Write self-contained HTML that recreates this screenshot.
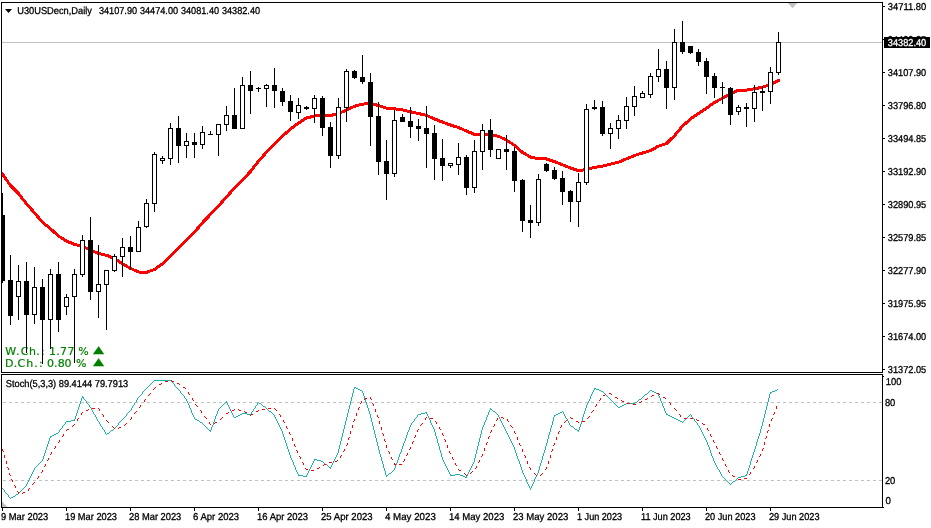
<!DOCTYPE html>
<html lang="en"><head><meta charset="utf-8"><title>U30USDecn, Daily</title>
<style>
html,body{margin:0;padding:0;background:#fff;}
body{width:931px;height:528px;overflow:hidden;position:relative;font-family:"Liberation Sans",sans-serif;}
svg{position:absolute;left:0;top:0;display:block;}
.t{font-family:"Liberation Sans",sans-serif;font-size:10px;fill:#000;stroke:#000;stroke-width:0.3px;text-rendering:geometricPrecision;}
.g{font-family:"DejaVu Sans","Liberation Sans",sans-serif;font-size:11px;fill:#008000;stroke:#008000;stroke-width:0.2px;}
.w{fill:#fff;stroke:#fff;}
</style></head><body>
<svg width="931" height="528" viewBox="0 0 931 528">
<rect x="0" y="0" width="931" height="528" fill="#fff"/>
<g shape-rendering="crispEdges">
<rect x="2" y="42" width="880" height="1" fill="#c0c0c0"/>
<line x1="3" y1="402.5" x2="882" y2="402.5" stroke="#c0c0c0" stroke-width="1" stroke-dasharray="3 3"/>
<line x1="3" y1="480.5" x2="882" y2="480.5" stroke="#c0c0c0" stroke-width="1" stroke-dasharray="3 3"/>
</g>
<polyline points="2.5,174.0 10.5,185.6 18.5,193.6 26.5,203.7 34.5,212.9 42.5,222.3 50.5,228.8 58.5,236.0 66.5,241.1 74.5,244.3 82.5,246.3 90.5,250.1 98.5,253.4 106.5,255.3 114.5,258.5 122.5,264.0 130.5,268.4 138.5,272.0 146.5,272.3 154.5,269.5 162.5,263.7 170.5,255.9 178.5,247.9 186.5,239.8 194.5,232.1 202.5,222.7 210.5,214.3 218.5,206.0 226.5,197.0 234.5,188.0 242.5,179.9 250.5,171.5 258.5,161.2 266.5,152.2 274.5,143.8 282.5,136.1 290.5,129.0 298.5,123.0 306.5,118.0 314.5,116.0 322.5,115.2 330.5,115.5 338.5,113.6 346.5,110.0 354.5,106.3 362.5,104.1 370.5,103.7 378.5,105.4 386.5,108.2 394.5,108.8 402.5,109.8 410.5,111.8 418.5,113.5 426.5,115.4 434.5,118.9 442.5,122.1 450.5,125.0 458.5,127.5 466.5,131.1 474.5,134.3 482.5,134.6 490.5,134.6 498.5,136.3 506.5,140.1 514.5,145.3 522.5,152.4 530.5,157.0 538.5,158.8 546.5,159.0 554.5,161.6 562.5,164.8 570.5,168.0 578.5,170.6 586.5,169.6 594.5,167.4 602.5,166.1 610.5,164.2 618.5,162.2 626.5,158.8 634.5,155.5 642.5,153.0 650.5,150.6 658.5,146.1 666.5,143.5 674.5,135.7 682.5,126.1 690.5,119.0 698.5,113.5 706.5,108.2 714.5,102.4 722.5,98.2 730.5,93.7 738.5,90.2 746.5,90.1 754.5,88.8 762.5,87.2 770.5,84.3 778.5,80.5" fill="none" stroke="#ff0000" stroke-width="3" stroke-linejoin="round" stroke-linecap="round" shape-rendering="crispEdges"/>
<text class="g" x="5.3 15.9 20.8 29 36.3 41 44.5 49.1 56.2 60.1 67.5 74.5 78.3" y="355">W.Ch.: 1.77 %</text>
<text class="g" x="5 13.8 17.5 26.2 34.3 38.9 43 46.9 54 57.7 64.5 71 75.9" y="367">D.Ch.: 0.80 %</text>
<text class="g" transform="translate(92.95,352.5) scale(1.116,0.8)" x="0" y="0" style="font-size:13px">▲</text>
<text class="g" transform="translate(92.95,364.5) scale(1.116,0.8)" x="0" y="0" style="font-size:13px">▲</text>
<g shape-rendering="crispEdges" fill="#000">
<rect x="2" y="193" width="1" height="90"/>
<rect x="1" y="215" width="4" height="66"/>
<rect x="10" y="255" width="1" height="70"/>
<rect x="8" y="280" width="5" height="36"/>
<rect x="18" y="265" width="1" height="55"/>
<rect x="16" y="281" width="5" height="16"/>
<rect x="17" y="282" width="3" height="14" fill="#fff"/>
<rect x="26" y="262" width="1" height="91"/>
<rect x="24" y="281" width="5" height="34"/>
<rect x="34" y="267" width="1" height="57"/>
<rect x="32" y="287" width="5" height="28"/>
<rect x="33" y="288" width="3" height="26" fill="#fff"/>
<rect x="42" y="279" width="1" height="85"/>
<rect x="40" y="287" width="5" height="33"/>
<rect x="50" y="269" width="1" height="80"/>
<rect x="48" y="274" width="5" height="46"/>
<rect x="49" y="275" width="3" height="44" fill="#fff"/>
<rect x="58" y="262" width="1" height="70"/>
<rect x="56" y="274" width="5" height="46"/>
<rect x="66" y="294" width="1" height="21"/>
<rect x="64" y="297" width="5" height="10"/>
<rect x="65" y="298" width="3" height="8" fill="#fff"/>
<rect x="74" y="269" width="1" height="94"/>
<rect x="72" y="274" width="5" height="23"/>
<rect x="73" y="275" width="3" height="21" fill="#fff"/>
<rect x="82" y="235" width="1" height="42"/>
<rect x="80" y="240" width="5" height="35"/>
<rect x="81" y="241" width="3" height="33" fill="#fff"/>
<rect x="90" y="217" width="1" height="83"/>
<rect x="88" y="240" width="5" height="52"/>
<rect x="98" y="245" width="1" height="73"/>
<rect x="96" y="284" width="5" height="8"/>
<rect x="97" y="285" width="3" height="6" fill="#fff"/>
<rect x="106" y="270" width="1" height="60"/>
<rect x="104" y="270" width="5" height="15"/>
<rect x="105" y="271" width="3" height="13" fill="#fff"/>
<rect x="114" y="254" width="1" height="18"/>
<rect x="112" y="256" width="5" height="15"/>
<rect x="113" y="257" width="3" height="13" fill="#fff"/>
<rect x="122" y="238" width="1" height="39"/>
<rect x="120" y="247" width="5" height="10"/>
<rect x="121" y="248" width="3" height="8" fill="#fff"/>
<rect x="130" y="236" width="1" height="34"/>
<rect x="128" y="247" width="5" height="5"/>
<rect x="138" y="221" width="1" height="31"/>
<rect x="136" y="227" width="5" height="25"/>
<rect x="137" y="228" width="3" height="23" fill="#fff"/>
<rect x="146" y="199" width="1" height="29"/>
<rect x="144" y="203" width="5" height="24"/>
<rect x="145" y="204" width="3" height="22" fill="#fff"/>
<rect x="154" y="152" width="1" height="60"/>
<rect x="152" y="154" width="5" height="50"/>
<rect x="153" y="155" width="3" height="48" fill="#fff"/>
<rect x="162" y="156" width="1" height="8"/>
<rect x="160" y="158" width="5" height="3"/>
<rect x="161" y="159" width="3" height="1" fill="#fff"/>
<rect x="170" y="123" width="1" height="42"/>
<rect x="168" y="128" width="5" height="31"/>
<rect x="169" y="129" width="3" height="29" fill="#fff"/>
<rect x="178" y="116" width="1" height="47"/>
<rect x="176" y="128" width="5" height="18"/>
<rect x="186" y="133" width="1" height="25"/>
<rect x="184" y="141" width="5" height="5"/>
<rect x="185" y="142" width="3" height="3" fill="#fff"/>
<rect x="194" y="133" width="1" height="25"/>
<rect x="192" y="142" width="5" height="3"/>
<rect x="202" y="126" width="1" height="23"/>
<rect x="200" y="132" width="5" height="13"/>
<rect x="201" y="133" width="3" height="11" fill="#fff"/>
<rect x="210" y="131" width="1" height="4"/>
<rect x="208" y="134" width="5" height="1"/>
<rect x="218" y="124" width="1" height="32"/>
<rect x="216" y="124" width="5" height="11"/>
<rect x="217" y="125" width="3" height="9" fill="#fff"/>
<rect x="226" y="106" width="1" height="25"/>
<rect x="224" y="115" width="5" height="10"/>
<rect x="225" y="116" width="3" height="8" fill="#fff"/>
<rect x="234" y="88" width="1" height="41"/>
<rect x="232" y="115" width="5" height="14"/>
<rect x="242" y="77" width="1" height="52"/>
<rect x="240" y="85" width="5" height="44"/>
<rect x="241" y="86" width="3" height="42" fill="#fff"/>
<rect x="250" y="71" width="1" height="43"/>
<rect x="248" y="85" width="5" height="6"/>
<rect x="258" y="87" width="1" height="5"/>
<rect x="256" y="88" width="5" height="1"/>
<rect x="266" y="84" width="1" height="23"/>
<rect x="264" y="85" width="5" height="4"/>
<rect x="265" y="86" width="3" height="2" fill="#fff"/>
<rect x="274" y="68" width="1" height="40"/>
<rect x="272" y="85" width="5" height="6"/>
<rect x="282" y="88" width="1" height="18"/>
<rect x="280" y="91" width="5" height="11"/>
<rect x="290" y="95" width="1" height="26"/>
<rect x="288" y="101" width="5" height="11"/>
<rect x="298" y="98" width="1" height="21"/>
<rect x="296" y="105" width="5" height="8"/>
<rect x="297" y="106" width="3" height="6" fill="#fff"/>
<rect x="306" y="106" width="1" height="4"/>
<rect x="304" y="107" width="5" height="2"/>
<rect x="314" y="95" width="1" height="28"/>
<rect x="312" y="98" width="5" height="11"/>
<rect x="313" y="99" width="3" height="9" fill="#fff"/>
<rect x="322" y="96" width="1" height="40"/>
<rect x="320" y="98" width="5" height="30"/>
<rect x="330" y="122" width="1" height="46"/>
<rect x="328" y="127" width="5" height="29"/>
<rect x="338" y="98" width="1" height="61"/>
<rect x="336" y="107" width="5" height="49"/>
<rect x="337" y="108" width="3" height="47" fill="#fff"/>
<rect x="346" y="69" width="1" height="53"/>
<rect x="344" y="71" width="5" height="37"/>
<rect x="345" y="72" width="3" height="35" fill="#fff"/>
<rect x="354" y="70" width="1" height="9"/>
<rect x="352" y="71" width="5" height="7"/>
<rect x="362" y="55" width="1" height="29"/>
<rect x="360" y="77" width="5" height="5"/>
<rect x="370" y="73" width="1" height="73"/>
<rect x="368" y="82" width="5" height="35"/>
<rect x="378" y="102" width="1" height="73"/>
<rect x="376" y="116" width="5" height="46"/>
<rect x="386" y="140" width="1" height="60"/>
<rect x="384" y="161" width="5" height="13"/>
<rect x="394" y="110" width="1" height="67"/>
<rect x="392" y="120" width="5" height="54"/>
<rect x="393" y="121" width="3" height="52" fill="#fff"/>
<rect x="402" y="114" width="1" height="8"/>
<rect x="400" y="117" width="5" height="5"/>
<rect x="410" y="107" width="1" height="31"/>
<rect x="408" y="121" width="5" height="6"/>
<rect x="418" y="119" width="1" height="22"/>
<rect x="416" y="126" width="5" height="3"/>
<rect x="426" y="106" width="1" height="62"/>
<rect x="424" y="128" width="5" height="6"/>
<rect x="434" y="125" width="1" height="55"/>
<rect x="432" y="133" width="5" height="26"/>
<rect x="442" y="139" width="1" height="42"/>
<rect x="440" y="158" width="5" height="8"/>
<rect x="450" y="163" width="1" height="5"/>
<rect x="448" y="163" width="5" height="3"/>
<rect x="449" y="164" width="3" height="1" fill="#fff"/>
<rect x="458" y="143" width="1" height="32"/>
<rect x="456" y="157" width="5" height="8"/>
<rect x="457" y="158" width="3" height="6" fill="#fff"/>
<rect x="466" y="155" width="1" height="40"/>
<rect x="464" y="157" width="5" height="31"/>
<rect x="474" y="140" width="1" height="53"/>
<rect x="472" y="151" width="5" height="37"/>
<rect x="473" y="152" width="3" height="35" fill="#fff"/>
<rect x="482" y="124" width="1" height="46"/>
<rect x="480" y="130" width="5" height="22"/>
<rect x="481" y="131" width="3" height="20" fill="#fff"/>
<rect x="490" y="119" width="1" height="38"/>
<rect x="488" y="130" width="5" height="20"/>
<rect x="498" y="149" width="1" height="10"/>
<rect x="496" y="149" width="5" height="10"/>
<rect x="497" y="150" width="3" height="8" fill="#fff"/>
<rect x="506" y="135" width="1" height="35"/>
<rect x="504" y="149" width="5" height="3"/>
<rect x="514" y="147" width="1" height="45"/>
<rect x="512" y="151" width="5" height="30"/>
<rect x="522" y="179" width="1" height="53"/>
<rect x="520" y="180" width="5" height="41"/>
<rect x="530" y="205" width="1" height="33"/>
<rect x="528" y="220" width="5" height="3"/>
<rect x="538" y="174" width="1" height="52"/>
<rect x="536" y="179" width="5" height="44"/>
<rect x="537" y="180" width="3" height="42" fill="#fff"/>
<rect x="546" y="163" width="1" height="9"/>
<rect x="544" y="164" width="5" height="7"/>
<rect x="554" y="167" width="1" height="13"/>
<rect x="552" y="170" width="5" height="9"/>
<rect x="562" y="171" width="1" height="34"/>
<rect x="560" y="178" width="5" height="14"/>
<rect x="570" y="190" width="1" height="32"/>
<rect x="568" y="191" width="5" height="11"/>
<rect x="578" y="173" width="1" height="54"/>
<rect x="576" y="182" width="5" height="20"/>
<rect x="577" y="183" width="3" height="18" fill="#fff"/>
<rect x="586" y="104" width="1" height="81"/>
<rect x="584" y="109" width="5" height="74"/>
<rect x="585" y="110" width="3" height="72" fill="#fff"/>
<rect x="594" y="100" width="1" height="10"/>
<rect x="592" y="107" width="5" height="2"/>
<rect x="602" y="101" width="1" height="35"/>
<rect x="600" y="107" width="5" height="27"/>
<rect x="610" y="123" width="1" height="26"/>
<rect x="608" y="128" width="5" height="6"/>
<rect x="609" y="129" width="3" height="4" fill="#fff"/>
<rect x="618" y="115" width="1" height="24"/>
<rect x="616" y="120" width="5" height="9"/>
<rect x="617" y="121" width="3" height="7" fill="#fff"/>
<rect x="626" y="97" width="1" height="32"/>
<rect x="624" y="106" width="5" height="15"/>
<rect x="625" y="107" width="3" height="13" fill="#fff"/>
<rect x="634" y="86" width="1" height="30"/>
<rect x="632" y="96" width="5" height="11"/>
<rect x="633" y="97" width="3" height="9" fill="#fff"/>
<rect x="642" y="91" width="1" height="7"/>
<rect x="640" y="93" width="5" height="5"/>
<rect x="641" y="94" width="3" height="3" fill="#fff"/>
<rect x="650" y="73" width="1" height="25"/>
<rect x="648" y="76" width="5" height="19"/>
<rect x="649" y="77" width="3" height="17" fill="#fff"/>
<rect x="658" y="49" width="1" height="33"/>
<rect x="656" y="69" width="5" height="8"/>
<rect x="657" y="70" width="3" height="6" fill="#fff"/>
<rect x="666" y="61" width="1" height="48"/>
<rect x="664" y="69" width="5" height="19"/>
<rect x="674" y="29" width="1" height="71"/>
<rect x="672" y="42" width="5" height="46"/>
<rect x="673" y="43" width="3" height="44" fill="#fff"/>
<rect x="682" y="21" width="1" height="33"/>
<rect x="680" y="42" width="5" height="10"/>
<rect x="690" y="46" width="1" height="8"/>
<rect x="688" y="46" width="5" height="7"/>
<rect x="698" y="49" width="1" height="17"/>
<rect x="696" y="52" width="5" height="10"/>
<rect x="706" y="58" width="1" height="36"/>
<rect x="704" y="61" width="5" height="16"/>
<rect x="714" y="73" width="1" height="25"/>
<rect x="712" y="76" width="5" height="12"/>
<rect x="722" y="82" width="1" height="22"/>
<rect x="720" y="87" width="5" height="1"/>
<rect x="730" y="87" width="1" height="38"/>
<rect x="728" y="88" width="5" height="27"/>
<rect x="738" y="105" width="1" height="10"/>
<rect x="736" y="107" width="5" height="5"/>
<rect x="737" y="108" width="3" height="3" fill="#fff"/>
<rect x="746" y="103" width="1" height="24"/>
<rect x="744" y="107" width="5" height="2"/>
<rect x="754" y="85" width="1" height="37"/>
<rect x="752" y="92" width="5" height="17"/>
<rect x="753" y="93" width="3" height="15" fill="#fff"/>
<rect x="762" y="86" width="1" height="25"/>
<rect x="760" y="91" width="5" height="2"/>
<rect x="770" y="67" width="1" height="37"/>
<rect x="768" y="72" width="5" height="20"/>
<rect x="769" y="73" width="3" height="18" fill="#fff"/>
<rect x="778" y="32" width="1" height="43"/>
<rect x="776" y="42" width="5" height="31"/>
<rect x="777" y="43" width="3" height="29" fill="#fff"/>
</g>
<path d="M2 488h1v1h-1zM3 489h1v1h-1zM4 490h1v2h-1zM5 492h1v1h-1zM6 493h1v1h-1zM7 494h1v1h-1zM8 495h1v2h-1zM9 497h1v1h-1zM10 498h1v1h-1zM11 497h2v1h-2zM13 496h2v1h-2zM15 495h1v1h-1zM16 494h2v1h-2zM18 493h1v1h-1zM19 492h1v1h-1zM20 491h1v1h-1zM21 490h1v1h-1zM22 489h1v1h-1zM23 488h1v1h-1zM24 487h1v1h-1zM25 486h1v1h-1zM26 484h1v2h-1zM27 482h1v2h-1zM28 480h1v2h-1zM29 478h1v2h-1zM30 476h1v2h-1zM31 474h1v2h-1zM32 472h1v2h-1zM33 470h1v2h-1zM34 468h1v2h-1zM35 467h1v1h-1zM36 466h1v1h-1zM37 465h1v1h-1zM38 464h1v1h-1zM39 463h1v1h-1zM40 462h1v1h-1zM41 461h1v1h-1zM42 459h1v2h-1zM43 456h1v3h-1zM44 453h1v3h-1zM45 450h1v3h-1zM46 447h1v3h-1zM47 444h1v3h-1zM48 441h1v3h-1zM49 438h1v3h-1zM50 436h1v2h-1zM51 436h1v1h-1zM52 435h2v1h-2zM54 434h2v1h-2zM56 433h2v1h-2zM58 432h1v1h-1zM59 430h1v2h-1zM60 429h1v1h-1zM61 428h1v1h-1zM62 426h1v2h-1zM63 425h1v1h-1zM64 424h1v1h-1zM65 422h1v2h-1zM66 421h5v1h-5zM71 420h4v1h-4zM74 419h1v1h-1zM75 416h1v3h-1zM76 413h1v3h-1zM77 410h1v3h-1zM78 407h1v3h-1zM79 404h1v3h-1zM80 401h1v3h-1zM81 398h1v3h-1zM82 396h1v2h-1zM83 397h1v2h-1zM84 399h1v1h-1zM85 400h1v1h-1zM86 401h1v2h-1zM87 403h1v1h-1zM88 404h1v1h-1zM89 405h1v2h-1zM90 407h1v1h-1zM91 408h1v2h-1zM92 410h1v2h-1zM93 412h1v2h-1zM94 414h1v1h-1zM95 415h1v2h-1zM96 417h1v2h-1zM97 419h1v2h-1zM98 421h1v1h-1zM99 422h1v2h-1zM100 424h1v2h-1zM101 426h1v1h-1zM102 427h1v2h-1zM103 429h1v1h-1zM104 430h1v2h-1zM105 432h1v2h-1zM106 434h1v1h-1zM107 433h2v1h-2zM109 432h1v1h-1zM110 431h1v1h-1zM111 430h2v1h-2zM113 429h1v1h-1zM114 428h1v1h-1zM115 427h1v1h-1zM116 426h1v1h-1zM117 425h1v1h-1zM118 423h1v2h-1zM119 422h1v1h-1zM120 421h1v1h-1zM121 420h1v1h-1zM122 419h1v1h-1zM123 418h1v1h-1zM124 417h1v1h-1zM125 416h1v1h-1zM126 414h1v2h-1zM127 413h1v1h-1zM128 412h1v1h-1zM129 411h1v1h-1zM130 410h1v1h-1zM131 408h1v2h-1zM132 406h1v2h-1zM133 405h1v1h-1zM134 403h1v2h-1zM135 402h1v1h-1zM136 400h1v2h-1zM137 398h1v2h-1zM138 397h1v1h-1zM139 396h1v1h-1zM140 395h1v1h-1zM141 394h1v1h-1zM142 392h1v2h-1zM143 391h1v1h-1zM144 390h1v1h-1zM145 389h1v1h-1zM146 388h1v1h-1zM147 387h1v1h-1zM148 386h1v1h-1zM149 385h1v1h-1zM150 384h1v1h-1zM151 383h1v1h-1zM152 382h1v1h-1zM153 381h1v1h-1zM154 380h17v1h-17zM171 381h1v1h-1zM172 382h1v1h-1zM173 383h1v1h-1zM174 384h1v2h-1zM175 386h1v1h-1zM176 387h1v1h-1zM177 388h1v1h-1zM178 389h1v1h-1zM179 390h1v1h-1zM180 391h1v2h-1zM181 393h1v1h-1zM182 394h1v1h-1zM183 395h1v1h-1zM184 396h1v2h-1zM185 398h1v1h-1zM186 399h1v2h-1zM187 401h1v2h-1zM188 403h1v2h-1zM189 405h1v3h-1zM190 408h1v2h-1zM191 410h1v3h-1zM192 413h1v2h-1zM193 415h1v2h-1zM194 417h1v2h-1zM195 419h2v1h-2zM197 420h2v1h-2zM199 421h1v1h-1zM200 422h2v1h-2zM202 423h1v1h-1zM203 424h1v1h-1zM204 425h1v1h-1zM205 426h1v1h-1zM206 427h1v1h-1zM207 428h1v1h-1zM208 429h1v1h-1zM209 430h1v1h-1zM210 430h1v2h-1zM211 427h1v3h-1zM212 425h1v2h-1zM213 422h1v3h-1zM214 419h1v3h-1zM215 416h1v3h-1zM216 414h1v2h-1zM217 411h1v3h-1zM218 409h1v2h-1zM219 408h1v1h-1zM220 407h1v1h-1zM221 406h1v1h-1zM222 405h1v1h-1zM223 404h1v1h-1zM224 403h1v1h-1zM225 402h1v1h-1zM226 401h1v2h-1zM227 403h1v2h-1zM228 405h1v2h-1zM229 407h1v2h-1zM230 409h1v2h-1zM231 411h1v2h-1zM232 413h1v2h-1zM233 415h1v2h-1zM234 417h2v1h-2zM236 416h2v1h-2zM238 415h2v1h-2zM240 414h2v1h-2zM242 413h5v1h-5zM247 414h4v1h-4zM251 412h1v2h-1zM252 411h1v1h-1zM253 409h1v2h-1zM254 408h1v1h-1zM255 406h1v2h-1zM256 405h1v1h-1zM257 403h1v2h-1zM258 402h1v1h-1zM259 403h2v1h-2zM261 404h1v1h-1zM262 405h1v1h-1zM263 406h2v1h-2zM265 407h1v1h-1zM266 408h1v1h-1zM267 409h1v1h-1zM268 410h1v1h-1zM269 411h2v1h-2zM271 412h1v1h-1zM272 413h1v1h-1zM273 414h1v1h-1zM274 415h1v2h-1zM275 417h1v2h-1zM276 419h1v2h-1zM277 421h1v2h-1zM278 423h1v2h-1zM279 425h1v2h-1zM280 427h1v2h-1zM281 429h1v2h-1zM282 431h1v3h-1zM283 434h1v3h-1zM284 437h1v3h-1zM285 440h1v3h-1zM286 443h1v3h-1zM287 446h1v3h-1zM288 449h1v3h-1zM289 452h1v3h-1zM290 455h1v3h-1zM291 458h1v2h-1zM292 460h1v2h-1zM293 462h1v3h-1zM294 465h1v2h-1zM295 467h1v3h-1zM296 470h1v2h-1zM297 472h1v2h-1zM298 474h1v2h-1zM299 475h4v1h-4zM303 476h4v1h-4zM306 475h1v1h-1zM307 473h1v2h-1zM308 471h1v2h-1zM309 469h1v2h-1zM310 467h1v2h-1zM311 465h1v2h-1zM312 463h1v2h-1zM313 461h1v2h-1zM314 459h1v2h-1zM315 459h2v1h-2zM317 460h4v1h-4zM321 461h2v1h-2zM323 462h1v1h-1zM324 463h1v1h-1zM325 464h2v1h-2zM327 465h1v1h-1zM328 466h1v1h-1zM329 467h1v1h-1zM330 467h1v2h-1zM331 465h1v2h-1zM332 463h1v2h-1zM333 461h1v2h-1zM334 459h1v2h-1zM335 457h1v2h-1zM336 455h1v2h-1zM337 453h1v2h-1zM338 449h1v4h-1zM339 445h1v4h-1zM340 441h1v4h-1zM341 437h1v4h-1zM342 433h1v4h-1zM343 429h1v4h-1zM344 425h1v4h-1zM345 421h1v4h-1zM346 417h1v4h-1zM347 413h1v4h-1zM348 409h1v4h-1zM349 405h1v4h-1zM350 401h1v4h-1zM351 397h1v4h-1zM352 393h1v4h-1zM353 389h1v4h-1zM354 387h1v2h-1zM355 387h1v1h-1zM356 388h2v1h-2zM358 389h2v1h-2zM360 390h2v1h-2zM362 391h1v2h-1zM363 393h1v3h-1zM364 396h1v3h-1zM365 399h1v3h-1zM366 402h1v3h-1zM367 405h1v3h-1zM368 408h1v3h-1zM369 411h1v3h-1zM370 414h1v4h-1zM371 418h1v4h-1zM372 422h1v4h-1zM373 426h1v4h-1zM374 430h1v4h-1zM375 434h1v4h-1zM376 438h1v4h-1zM377 442h1v4h-1zM378 446h1v4h-1zM379 450h1v4h-1zM380 454h1v3h-1zM381 457h1v4h-1zM382 461h1v3h-1zM383 464h1v4h-1zM384 468h1v3h-1zM385 471h1v4h-1zM386 475h1v2h-1zM387 475h1v1h-1zM388 474h1v1h-1zM389 473h2v1h-2zM391 472h1v1h-1zM392 471h1v1h-1zM393 470h1v1h-1zM394 468h1v2h-1zM395 465h1v3h-1zM396 463h1v2h-1zM397 460h1v3h-1zM398 457h1v3h-1zM399 454h1v3h-1zM400 452h1v2h-1zM401 449h1v3h-1zM402 446h1v3h-1zM403 443h1v3h-1zM404 441h1v2h-1zM405 438h1v3h-1zM406 435h1v3h-1zM407 432h1v3h-1zM408 430h1v2h-1zM409 427h1v3h-1zM410 425h1v2h-1zM411 423h1v2h-1zM412 422h1v1h-1zM413 421h1v1h-1zM414 419h1v2h-1zM415 418h1v1h-1zM416 417h1v1h-1zM417 415h1v2h-1zM418 414h3v1h-3zM421 413h4v1h-4zM425 412h2v1h-2zM426 413h1v1h-1zM427 414h1v2h-1zM428 416h1v2h-1zM429 418h1v2h-1zM430 420h1v3h-1zM431 423h1v2h-1zM432 425h1v2h-1zM433 427h1v2h-1zM434 429h1v3h-1zM435 432h1v4h-1zM436 436h1v3h-1zM437 439h1v4h-1zM438 443h1v3h-1zM439 446h1v4h-1zM440 450h1v3h-1zM441 453h1v4h-1zM442 457h1v3h-1zM443 460h1v2h-1zM444 462h1v2h-1zM445 464h1v2h-1zM446 466h1v2h-1zM447 468h1v2h-1zM448 470h1v2h-1zM449 472h1v2h-1zM450 474h1v2h-1zM451 475h4v1h-4zM455 474h5v1h-5zM460 475h3v1h-3zM463 476h2v1h-2zM465 477h2v1h-2zM466 476h1v1h-1zM467 474h1v2h-1zM468 472h1v2h-1zM469 470h1v2h-1zM470 468h1v2h-1zM471 466h1v2h-1zM472 464h1v2h-1zM473 462h1v2h-1zM474 458h1v4h-1zM475 454h1v4h-1zM476 450h1v4h-1zM477 446h1v4h-1zM478 442h1v4h-1zM479 438h1v4h-1zM480 434h1v4h-1zM481 430h1v4h-1zM482 427h1v3h-1zM483 425h1v2h-1zM484 422h1v3h-1zM485 420h1v2h-1zM486 417h1v3h-1zM487 415h1v2h-1zM488 412h1v3h-1zM489 410h1v2h-1zM490 408h1v2h-1zM491 409h1v1h-1zM492 410h1v1h-1zM493 411h2v1h-2zM495 412h1v1h-1zM496 413h1v1h-1zM497 414h1v1h-1zM498 415h1v2h-1zM499 417h1v2h-1zM500 419h1v2h-1zM501 421h1v2h-1zM502 423h1v2h-1zM503 425h1v2h-1zM504 427h1v2h-1zM505 429h1v2h-1zM506 431h1v2h-1zM507 433h1v2h-1zM508 435h1v2h-1zM509 437h1v2h-1zM510 439h1v2h-1zM511 441h1v2h-1zM512 443h1v2h-1zM513 445h1v2h-1zM514 447h1v3h-1zM515 450h1v3h-1zM516 453h1v3h-1zM517 456h1v3h-1zM518 459h1v2h-1zM519 461h1v3h-1zM520 464h1v3h-1zM521 467h1v3h-1zM522 470h1v3h-1zM523 473h1v2h-1zM524 475h1v2h-1zM525 477h1v2h-1zM526 479h1v3h-1zM527 482h1v2h-1zM528 484h1v2h-1zM529 486h1v2h-1zM530 488h1v2h-1zM530 488h1v1h-1zM531 486h1v2h-1zM532 484h1v2h-1zM533 482h1v2h-1zM534 479h1v3h-1zM535 477h1v2h-1zM536 475h1v2h-1zM537 473h1v2h-1zM538 470h1v3h-1zM539 466h1v4h-1zM540 463h1v3h-1zM541 460h1v3h-1zM542 456h1v4h-1zM543 453h1v3h-1zM544 450h1v3h-1zM545 446h1v4h-1zM546 443h1v3h-1zM547 439h1v4h-1zM548 435h1v4h-1zM549 432h1v3h-1zM550 428h1v4h-1zM551 425h1v3h-1zM552 421h1v4h-1zM553 417h1v4h-1zM554 415h1v2h-1zM555 415h1v1h-1zM556 414h2v1h-2zM558 413h2v1h-2zM560 412h2v1h-2zM562 411h1v1h-1zM563 412h1v2h-1zM564 414h1v2h-1zM565 416h1v2h-1zM566 418h1v1h-1zM567 419h1v2h-1zM568 421h1v2h-1zM569 423h1v2h-1zM570 425h1v1h-1zM571 426h2v1h-2zM573 427h1v1h-1zM574 428h1v1h-1zM575 429h2v1h-2zM577 430h1v1h-1zM578 430h1v2h-1zM579 427h1v3h-1zM580 424h1v3h-1zM581 421h1v3h-1zM582 417h1v4h-1zM583 414h1v3h-1zM584 411h1v3h-1zM585 408h1v3h-1zM586 405h1v3h-1zM587 403h1v2h-1zM588 401h1v2h-1zM589 399h1v2h-1zM590 396h1v3h-1zM591 394h1v2h-1zM592 392h1v2h-1zM593 390h1v2h-1zM594 388h1v2h-1zM595 388h1v1h-1zM596 389h3v1h-3zM599 390h2v1h-2zM601 391h2v1h-2zM603 392h1v1h-1zM604 393h1v1h-1zM605 394h1v1h-1zM606 395h1v1h-1zM607 396h1v1h-1zM608 397h1v1h-1zM609 398h1v1h-1zM610 399h1v1h-1zM611 400h1v1h-1zM612 401h1v1h-1zM613 402h1v1h-1zM614 403h1v1h-1zM615 404h1v1h-1zM616 405h1v1h-1zM617 406h1v1h-1zM618 407h2v1h-2zM620 406h2v1h-2zM622 405h2v1h-2zM624 404h2v1h-2zM626 403h9v1h-9zM635 402h2v1h-2zM637 401h1v1h-1zM638 400h1v1h-1zM639 399h2v1h-2zM641 398h1v1h-1zM642 397h1v1h-1zM643 396h1v1h-1zM644 395h1v1h-1zM645 394h2v1h-2zM647 393h1v1h-1zM648 392h1v1h-1zM649 391h1v1h-1zM650 390h2v1h-2zM652 391h2v1h-2zM654 392h2v1h-2zM656 393h2v1h-2zM658 394h1v2h-1zM659 396h1v2h-1zM660 398h1v3h-1zM661 401h1v2h-1zM662 403h1v3h-1zM663 406h1v2h-1zM664 408h1v3h-1zM665 411h1v2h-1zM666 413h1v2h-1zM667 414h1v1h-1zM668 415h2v1h-2zM670 416h2v1h-2zM672 417h2v1h-2zM674 418h2v1h-2zM676 419h2v1h-2zM678 420h2v1h-2zM680 421h2v1h-2zM682 422h1v1h-1zM683 421h1v1h-1zM684 420h1v1h-1zM685 419h1v1h-1zM686 418h1v1h-1zM687 417h1v1h-1zM688 416h1v1h-1zM689 415h1v1h-1zM690 414h1v1h-1zM691 415h1v2h-1zM692 417h1v1h-1zM693 418h1v1h-1zM694 419h1v2h-1zM695 421h1v1h-1zM696 422h1v1h-1zM697 423h1v2h-1zM698 425h1v1h-1zM699 426h1v2h-1zM700 428h1v2h-1zM701 430h1v2h-1zM702 432h1v2h-1zM703 434h1v2h-1zM704 436h1v2h-1zM705 438h1v2h-1zM706 440h1v2h-1zM707 442h1v3h-1zM708 445h1v2h-1zM709 447h1v3h-1zM710 450h1v3h-1zM711 453h1v3h-1zM712 456h1v2h-1zM713 458h1v3h-1zM714 461h1v2h-1zM715 463h1v2h-1zM716 465h1v2h-1zM717 467h1v2h-1zM718 469h1v1h-1zM719 470h1v2h-1zM720 472h1v2h-1zM721 474h1v2h-1zM722 476h1v1h-1zM723 477h1v1h-1zM724 478h1v1h-1zM725 479h1v1h-1zM726 480h1v1h-1zM727 481h1v1h-1zM728 482h1v1h-1zM729 483h1v1h-1zM730 484h1v1h-1zM731 483h1v1h-1zM732 482h1v1h-1zM733 481h2v1h-2zM735 480h1v1h-1zM736 479h1v1h-1zM737 478h1v1h-1zM738 477h3v1h-3zM741 476h4v1h-4zM745 475h2v1h-2zM746 474h1v1h-1zM747 471h1v3h-1zM748 468h1v3h-1zM749 465h1v3h-1zM750 461h1v4h-1zM751 458h1v3h-1zM752 455h1v3h-1zM753 452h1v3h-1zM754 449h1v3h-1zM755 446h1v3h-1zM756 442h1v4h-1zM757 439h1v3h-1zM758 436h1v3h-1zM759 433h1v3h-1zM760 429h1v4h-1zM761 426h1v3h-1zM762 422h1v4h-1zM763 418h1v4h-1zM764 414h1v4h-1zM765 410h1v4h-1zM766 406h1v4h-1zM767 402h1v4h-1zM768 398h1v4h-1zM769 394h1v4h-1zM770 392h1v2h-1zM771 392h1v1h-1zM772 391h3v1h-3zM775 390h2v1h-2zM777 389h1v1h-1z" fill="#20b2aa" shape-rendering="crispEdges"/>
<path d="M2 449h1v2h-1zM3 451h1v1h-1zM4 455h1v3h-1zM6 461h1v3h-1zM7 467h1v1h-1zM8 468h1v2h-1zM9 473h1v2h-1zM10 475h1v1h-1zM11 479h1v1h-1zM12 480h1v2h-1zM14 485h1v1h-1zM15 486h1v2h-1zM17 491h1v1h-1zM18 492h1v2h-1zM22 493h1v1h-1zM23 492h2v1h-2zM28 489h1v2h-1zM29 488h1v1h-1zM32 484h1v1h-1zM33 483h1v1h-1zM34 482h1v1h-1zM37 478h1v1h-1zM38 476h1v2h-1zM41 472h1v1h-1zM42 470h1v2h-1zM44 466h1v1h-1zM45 464h1v2h-1zM47 460h1v1h-1zM48 458h1v2h-1zM50 454h1v1h-1zM51 452h1v2h-1zM54 448h1v1h-1zM55 446h1v2h-1zM58 442h1v1h-1zM59 440h1v2h-1zM62 436h1v1h-1zM63 434h1v2h-1zM66 430h1v1h-1zM67 429h2v1h-2zM72 426h1v1h-1zM73 425h1v1h-1zM74 424h1v1h-1zM77 419h1v2h-1zM78 418h1v1h-1zM81 413h1v2h-1zM82 412h1v1h-1zM86 410h2v1h-2zM88 409h1v1h-1zM92 408h3v1h-3zM98 408h1v1h-1zM99 409h1v2h-1zM102 414h1v1h-1zM103 415h1v2h-1zM106 420h1v1h-1zM107 421h1v1h-1zM108 422h1v1h-1zM112 426h1v1h-1zM113 427h1v1h-1zM114 428h1v1h-1zM118 428h1v1h-1zM119 427h2v1h-2zM124 425h1v1h-1zM125 424h1v1h-1zM126 423h1v1h-1zM130 419h1v1h-1zM131 417h1v2h-1zM134 413h1v1h-1zM135 412h1v1h-1zM136 411h1v1h-1zM139 407h1v1h-1zM140 405h1v2h-1zM144 400h1v2h-1zM145 399h1v1h-1zM148 395h1v1h-1zM149 394h1v1h-1zM150 393h1v1h-1zM153 389h1v1h-1zM154 388h1v1h-1zM155 387h1v1h-1zM159 384h2v1h-2zM161 383h1v1h-1zM165 381h3v1h-3zM171 380h1v1h-1zM172 381h2v1h-2zM177 383h2v1h-2zM179 384h1v1h-1zM183 387h2v1h-2zM185 388h1v1h-1zM188 392h1v2h-1zM189 394h1v1h-1zM192 398h1v2h-1zM193 400h1v1h-1zM195 404h1v1h-1zM196 405h1v1h-1zM197 406h1v1h-1zM200 410h1v1h-1zM201 411h1v2h-1zM204 416h1v1h-1zM205 417h1v1h-1zM206 418h1v1h-1zM209 422h1v2h-1zM210 424h1v1h-1zM214 423h1v1h-1zM215 422h2v1h-2zM220 419h1v1h-1zM221 418h1v1h-1zM222 417h1v1h-1zM226 413h2v1h-2zM228 412h1v1h-1zM232 410h2v1h-2zM234 409h1v1h-1zM238 409h1v1h-1zM239 410h2v1h-2zM244 411h1v1h-1zM245 412h2v1h-2zM250 415h1v1h-1zM251 414h2v1h-2zM256 411h2v1h-2zM258 410h1v1h-1zM262 409h3v1h-3zM268 408h3v1h-3zM274 408h1v1h-1zM275 409h1v1h-1zM276 410h1v1h-1zM279 414h1v1h-1zM280 415h1v2h-1zM283 420h1v2h-1zM284 422h1v1h-1zM286 426h1v2h-1zM287 428h1v1h-1zM289 432h1v2h-1zM290 434h1v1h-1zM292 438h1v3h-1zM294 444h1v2h-1zM295 446h1v1h-1zM296 450h1v1h-1zM297 451h1v2h-1zM299 456h1v1h-1zM300 457h1v2h-1zM302 462h1v1h-1zM303 463h1v2h-1zM305 468h1v1h-1zM306 469h2v1h-2zM311 470h3v1h-3zM317 468h2v1h-2zM319 467h1v1h-1zM323 465h1v1h-1zM324 464h2v1h-2zM329 462h3v1h-3zM335 461h2v1h-2zM337 460h1v1h-1zM340 456h1v2h-1zM341 455h1v1h-1zM343 451h1v1h-1zM344 449h1v2h-1zM346 445h1v1h-1zM347 443h1v2h-1zM348 438h1v2h-1zM349 437h1v1h-1zM350 431h1v3h-1zM352 425h1v3h-1zM353 421h1v1h-1zM354 419h1v2h-1zM356 413h1v3h-1zM358 408h1v2h-1zM359 407h1v1h-1zM360 403h1v1h-1zM361 401h1v2h-1zM364 399h1v1h-1zM365 398h2v1h-2zM370 397h1v2h-1zM371 399h1v1h-1zM372 403h1v1h-1zM373 404h1v2h-1zM375 409h1v3h-1zM377 415h1v2h-1zM378 417h1v1h-1zM379 421h1v3h-1zM381 427h1v3h-1zM382 433h1v1h-1zM383 434h1v2h-1zM384 439h1v2h-1zM385 441h1v1h-1zM386 445h1v3h-1zM388 451h1v1h-1zM389 452h1v2h-1zM391 457h1v2h-1zM392 459h1v1h-1zM394 463h1v2h-1zM395 464h1v1h-1zM399 464h3v1h-3zM403 461h1v1h-1zM404 459h1v2h-1zM406 455h1v1h-1zM407 453h1v2h-1zM409 449h1v1h-1zM410 447h1v2h-1zM412 442h1v2h-1zM413 441h1v1h-1zM414 437h1v1h-1zM415 435h1v2h-1zM417 430h1v2h-1zM418 429h1v1h-1zM420 425h1v1h-1zM421 424h1v1h-1zM422 423h1v1h-1zM425 418h1v2h-1zM426 417h1v1h-1zM430 418h3v1h-3zM435 421h1v1h-1zM436 422h1v2h-1zM439 427h1v2h-1zM440 429h1v1h-1zM442 433h1v2h-1zM443 435h1v1h-1zM444 439h1v1h-1zM445 440h1v2h-1zM447 445h1v3h-1zM449 451h1v2h-1zM450 453h1v1h-1zM452 457h1v2h-1zM453 459h1v1h-1zM455 463h1v2h-1zM456 465h1v1h-1zM458 469h1v1h-1zM459 470h2v1h-2zM464 473h1v1h-1zM465 474h1v1h-1zM466 475h1v1h-1zM470 473h1v1h-1zM471 472h1v1h-1zM472 471h1v1h-1zM475 468h1v1h-1zM476 466h1v2h-1zM478 462h1v1h-1zM479 460h1v2h-1zM481 456h1v1h-1zM482 454h1v2h-1zM484 448h1v3h-1zM486 443h1v2h-1zM487 442h1v1h-1zM488 437h1v2h-1zM489 436h1v1h-1zM490 432h1v1h-1zM491 430h1v2h-1zM493 426h1v1h-1zM494 424h1v2h-1zM496 420h1v1h-1zM497 418h1v2h-1zM501 417h2v1h-2zM503 418h1v1h-1zM507 419h1v2h-1zM508 421h1v1h-1zM510 425h1v1h-1zM511 426h1v1h-1zM512 427h1v1h-1zM514 431h1v2h-1zM515 433h1v1h-1zM517 437h1v3h-1zM519 443h1v2h-1zM520 445h1v1h-1zM522 449h1v3h-1zM524 455h1v1h-1zM525 456h1v2h-1zM527 461h1v3h-1zM529 467h1v1h-1zM530 468h1v2h-1zM534 473h1v1h-1zM535 474h1v1h-1zM536 475h1v1h-1zM540 475h1v1h-1zM541 474h1v1h-1zM542 473h1v1h-1zM545 469h1v1h-1zM546 467h1v2h-1zM548 461h1v3h-1zM550 455h1v3h-1zM551 451h1v1h-1zM552 449h1v2h-1zM553 445h1v1h-1zM554 443h1v2h-1zM556 437h1v3h-1zM558 432h1v2h-1zM559 431h1v1h-1zM560 427h1v1h-1zM561 425h1v2h-1zM564 422h1v1h-1zM565 421h1v1h-1zM566 420h1v1h-1zM570 417h1v1h-1zM571 418h2v1h-2zM576 421h2v1h-2zM578 422h1v1h-1zM582 421h3v1h-3zM587 418h1v1h-1zM588 417h1v1h-1zM589 416h1v1h-1zM591 412h1v1h-1zM592 411h1v1h-1zM593 410h1v1h-1zM595 406h1v1h-1zM596 404h1v2h-1zM599 400h1v1h-1zM600 398h1v2h-1zM603 395h2v1h-2zM605 394h1v1h-1zM609 393h2v1h-2zM611 394h1v1h-1zM615 397h2v1h-2zM617 398h1v1h-1zM621 400h1v1h-1zM622 401h2v1h-2zM627 403h3v1h-3zM633 404h3v1h-3zM639 402h2v1h-2zM641 401h1v1h-1zM645 399h2v1h-2zM647 398h1v1h-1zM651 396h1v1h-1zM652 395h2v1h-2zM657 393h2v1h-2zM659 394h1v1h-1zM663 397h2v1h-2zM665 398h1v1h-1zM669 402h1v1h-1zM670 403h1v2h-1zM674 408h1v1h-1zM675 409h1v1h-1zM676 410h1v1h-1zM679 414h1v1h-1zM680 415h1v2h-1zM684 418h3v1h-3zM690 418h3v1h-3zM696 419h1v1h-1zM697 420h2v1h-2zM702 423h1v1h-1zM703 424h2v1h-2zM707 428h1v2h-1zM708 430h1v1h-1zM710 434h1v2h-1zM711 436h1v1h-1zM713 440h1v2h-1zM714 442h1v1h-1zM716 446h1v2h-1zM717 448h1v1h-1zM719 452h1v2h-1zM720 454h1v1h-1zM722 458h1v2h-1zM723 460h1v1h-1zM725 464h1v2h-1zM726 466h1v1h-1zM728 470h1v2h-1zM729 472h1v1h-1zM732 475h1v1h-1zM733 476h2v1h-2zM738 479h3v1h-3zM744 478h3v1h-3zM749 474h1v1h-1zM750 472h1v2h-1zM753 468h1v1h-1zM754 466h1v2h-1zM756 462h1v1h-1zM757 460h1v2h-1zM759 456h1v1h-1zM760 454h1v2h-1zM762 449h1v2h-1zM763 448h1v1h-1zM764 442h1v3h-1zM765 438h1v1h-1zM766 436h1v2h-1zM767 431h1v2h-1zM768 430h1v1h-1zM769 424h1v3h-1zM771 419h1v2h-1zM772 418h1v1h-1zM773 414h1v1h-1zM774 412h1v2h-1zM776 406h1v3h-1z" fill="#ff0000" shape-rendering="crispEdges"/>
<polygon points="788,3 797,3 792.5,8" fill="#c0c0c0" stroke="#c0c0c0" stroke-width="0.4"/>
<polygon points="2,501.5 2,507 7.6,507" fill="#c0c0c0"/>
<g shape-rendering="crispEdges" fill="#000">
<rect x="1" y="2" width="882" height="1"/>
<rect x="1" y="372" width="882" height="1"/>
<rect x="1" y="2" width="1" height="371"/>
<rect x="882" y="2" width="1" height="371"/>
<rect x="1" y="374" width="882" height="1"/>
<rect x="1" y="507" width="883" height="1"/>
<rect x="1" y="374" width="1" height="134"/>
<rect x="882" y="374" width="1" height="134"/>
<rect x="883" y="6" width="2" height="1"/>
<rect x="883" y="39" width="2" height="1"/>
<rect x="883" y="72" width="2" height="1"/>
<rect x="883" y="105" width="2" height="1"/>
<rect x="883" y="138" width="2" height="1"/>
<rect x="883" y="171" width="2" height="1"/>
<rect x="883" y="204" width="2" height="1"/>
<rect x="883" y="237" width="2" height="1"/>
<rect x="883" y="270" width="2" height="1"/>
<rect x="883" y="303" width="2" height="1"/>
<rect x="883" y="336" width="2" height="1"/>
<rect x="883" y="369" width="2" height="1"/>
<rect x="883" y="376" width="1" height="1"/>
<rect x="2" y="508" width="1" height="3"/>
<rect x="66" y="508" width="1" height="3"/>
<rect x="130" y="508" width="1" height="3"/>
<rect x="194" y="508" width="1" height="3"/>
<rect x="258" y="508" width="1" height="3"/>
<rect x="322" y="508" width="1" height="3"/>
<rect x="386" y="508" width="1" height="3"/>
<rect x="450" y="508" width="1" height="3"/>
<rect x="514" y="508" width="1" height="3"/>
<rect x="578" y="508" width="1" height="3"/>
<rect x="642" y="508" width="1" height="3"/>
<rect x="706" y="508" width="1" height="3"/>
<rect x="770" y="508" width="1" height="3"/>
</g>
<polygon points="5,9 12,9 8.5,13" fill="#000"/>
<text class="t" x="887.8" y="10" textLength="38.4" lengthAdjust="spacingAndGlyphs">34711.80</text>
<text class="t" x="887.8" y="43" textLength="38.4" lengthAdjust="spacingAndGlyphs">34409.85</text>
<text class="t" x="887.8" y="76" textLength="38.4" lengthAdjust="spacingAndGlyphs">34107.90</text>
<text class="t" x="887.8" y="109" textLength="38.4" lengthAdjust="spacingAndGlyphs">33796.80</text>
<text class="t" x="887.8" y="142" textLength="38.4" lengthAdjust="spacingAndGlyphs">33494.85</text>
<text class="t" x="887.8" y="175" textLength="38.4" lengthAdjust="spacingAndGlyphs">33192.90</text>
<text class="t" x="887.8" y="208" textLength="38.4" lengthAdjust="spacingAndGlyphs">32890.95</text>
<text class="t" x="887.8" y="241" textLength="38.4" lengthAdjust="spacingAndGlyphs">32579.85</text>
<text class="t" x="887.8" y="274" textLength="38.4" lengthAdjust="spacingAndGlyphs">32277.90</text>
<text class="t" x="887.8" y="307" textLength="38.4" lengthAdjust="spacingAndGlyphs">31975.95</text>
<text class="t" x="887.8" y="340" textLength="38.4" lengthAdjust="spacingAndGlyphs">31674.00</text>
<text class="t" x="887.8" y="373" textLength="38.4" lengthAdjust="spacingAndGlyphs">31372.05</text>
<rect x="884" y="37" width="46" height="11" fill="#000" shape-rendering="crispEdges"/>
<text class="t w" x="887.8" y="46" textLength="38.4" lengthAdjust="spacingAndGlyphs">34382.40</text>
<text class="t" x="885.8" y="385" textLength="15.6" lengthAdjust="spacingAndGlyphs">100</text>
<text class="t" x="884.9" y="406" textLength="10.4" lengthAdjust="spacingAndGlyphs">80</text>
<text class="t" x="884.9" y="484" textLength="10.4" lengthAdjust="spacingAndGlyphs">20</text>
<text class="t" x="885.6" y="504" textLength="5.4" lengthAdjust="spacingAndGlyphs">0</text>
<text class="t" x="1" y="520" textLength="47.2" lengthAdjust="spacingAndGlyphs">9 Mar 2023</text>
<text class="t" x="65" y="520" textLength="52" lengthAdjust="spacingAndGlyphs">19 Mar 2023</text>
<text class="t" x="129" y="520" textLength="52.3" lengthAdjust="spacingAndGlyphs">28 Mar 2023</text>
<text class="t" x="193" y="520" textLength="46.1" lengthAdjust="spacingAndGlyphs">6 Apr 2023</text>
<text class="t" x="257" y="520" textLength="51.1" lengthAdjust="spacingAndGlyphs">16 Apr 2023</text>
<text class="t" x="321" y="520" textLength="51.7" lengthAdjust="spacingAndGlyphs">25 Apr 2023</text>
<text class="t" x="385" y="520" textLength="50.8" lengthAdjust="spacingAndGlyphs">4 May 2023</text>
<text class="t" x="449" y="520" textLength="55.3" lengthAdjust="spacingAndGlyphs">14 May 2023</text>
<text class="t" x="513" y="520" textLength="55.3" lengthAdjust="spacingAndGlyphs">23 May 2023</text>
<text class="t" x="577" y="520" textLength="45" lengthAdjust="spacingAndGlyphs">1 Jun 2023</text>
<text class="t" x="641" y="520" textLength="49.7" lengthAdjust="spacingAndGlyphs">11 Jun 2023</text>
<text class="t" x="705" y="520" textLength="50.5" lengthAdjust="spacingAndGlyphs">20 Jun 2023</text>
<text class="t" x="769" y="520" textLength="50.5" lengthAdjust="spacingAndGlyphs">29 Jun 2023</text>
<text class="t" x="17.2" y="14" textLength="74.8" lengthAdjust="spacingAndGlyphs">U30USDecn,Daily</text>
<text class="t" x="98.9" y="14" textLength="38.2" lengthAdjust="spacingAndGlyphs">34107.90</text>
<text class="t" x="139.9" y="14" textLength="38.2" lengthAdjust="spacingAndGlyphs">34474.00</text>
<text class="t" x="180.9" y="14" textLength="38.2" lengthAdjust="spacingAndGlyphs">34081.40</text>
<text class="t" x="221.9" y="14" textLength="38.2" lengthAdjust="spacingAndGlyphs">34382.40</text>
<text class="t" x="5.8" y="387" textLength="122.4" lengthAdjust="spacingAndGlyphs">Stoch(5,3,3) 89.4144 79.7913</text>
</svg>
</body></html>
